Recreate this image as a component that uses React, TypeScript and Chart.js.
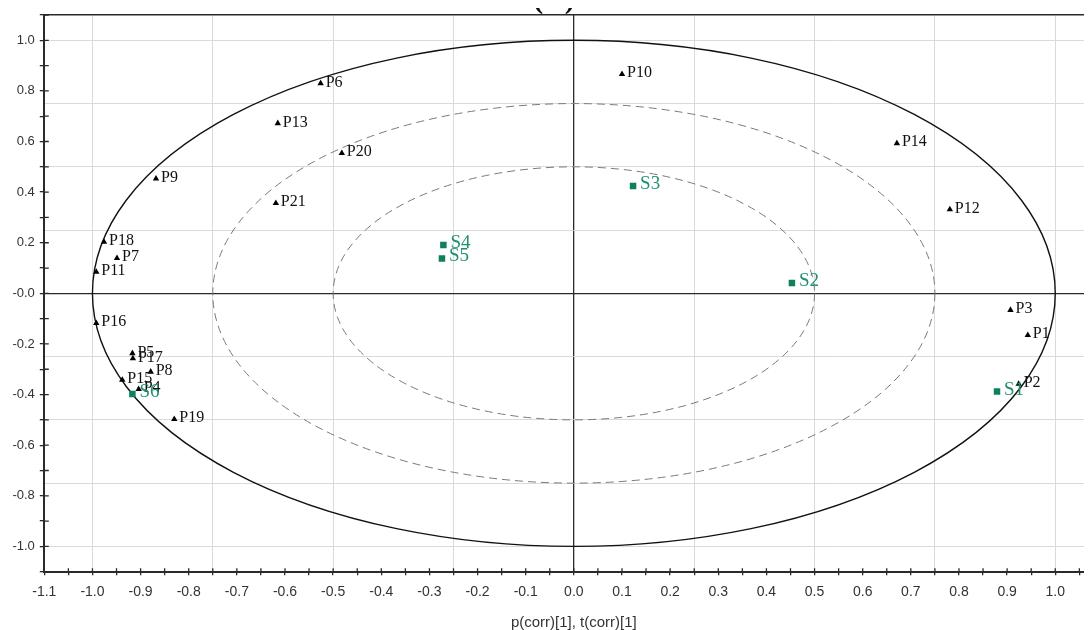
import React, { useEffect, useRef } from "react";
import { Chart, registerables } from "chart.js";

Chart.register(...registerables);

// ---- data ----
const pLabels = ["P1","P2","P3","P4","P5","P6","P7","P8","P9","P10","P11","P12","P13","P14","P15","P16","P17","P18","P19","P20","P21"];
const pX = [0.943, 0.924, 0.907, -0.904, -0.917, -0.526, -0.949, -0.879, -0.868, 0.100, -0.992, 0.781, -0.615, 0.671, -0.938, -0.992, -0.916, -0.976, -0.830, -0.482, -0.619];
const pY = [-0.165, -0.358, -0.066, -0.379, -0.237, 0.830, 0.139, -0.310, 0.453, 0.866, 0.085, 0.332, 0.672, 0.593, -0.342, -0.118, -0.257, 0.203, -0.497, 0.554, 0.356];

const sLabels = ["S1","S2","S3","S4","S5","S6"];
const sX = [0.879, 0.453, 0.123, -0.271, -0.274, -0.917];
const sY = [-0.388, 0.041, 0.424, 0.191, 0.138, -0.398];

const ellipseRadii = [1.0, 0.75, 0.5];

const xTickValues = [-1.1,-1.05,-1.0,-0.95,-0.9,-0.85,-0.8,-0.75,-0.7,-0.65,-0.6,-0.55,-0.5,-0.45,-0.4,-0.35,-0.3,-0.25,-0.2,-0.15,-0.1,-0.05,0,0.05,0.1,0.15,0.2,0.25,0.3,0.35,0.4,0.45,0.5,0.55,0.6,0.65,0.7,0.75,0.8,0.85,0.9,0.95,1.0,1.05,1.1];
const xTickLabels = ["-1.1","","-1.0","","-0.9","","-0.8","","-0.7","","-0.6","","-0.5","","-0.4","","-0.3","","-0.2","","-0.1","","0.0","","0.1","","0.2","","0.3","","0.4","","0.5","","0.6","","0.7","","0.8","","0.9","","1.0","","1.1"];
const yTickValues = [-1.1,-1.0,-0.9,-0.8,-0.7,-0.6,-0.5,-0.4,-0.3,-0.2,-0.1,0,0.1,0.2,0.3,0.4,0.5,0.6,0.7,0.8,0.9,1.0,1.1];
const yTickLabels = ["","-1.0","","-0.8","","-0.6","","-0.4","","-0.2","","-0.0","","0.2","","0.4","","0.6","","0.8","","1.0",""];
const gridValues = [-1.0, -0.75, -0.5, -0.25, 0, 0.25, 0.5, 0.75, 1.0];

const xTitle = "p(corr)[1], t(corr)[1]";
const panelTitle = "(A)";

const GREEN = "#0d8060";
const GREEN_TEXT = "#1f8f70";
const AXIS = "#2a2a2a";
const GRID = "#dadada";
const SANS = "'Liberation Sans', Arial, sans-serif";
const SERIF = "'Liberation Serif', 'Times New Roman', serif";

const noPad = (s: any) => {
  s.paddingLeft = 0;
  s.paddingRight = 0;
  s.paddingTop = 0;
  s.paddingBottom = 0;
};

const overlay = {
  id: "overlay",
  beforeDatasetsDraw(chart: any) {
    const { ctx, scales } = chart;
    const xs = scales.x, ys = scales.y;
    const cx = xs.getPixelForValue(0);
    const cy = ys.getPixelForValue(0);
    ctx.save();
    ellipseRadii.forEach((r, i) => {
      const rx = xs.getPixelForValue(r) - cx;
      const ry = cy - ys.getPixelForValue(r);
      ctx.beginPath();
      ctx.ellipse(cx, cy, rx, ry, 0, 0, Math.PI * 2);
      if (i === 0) {
        ctx.setLineDash([]);
        ctx.strokeStyle = "#111";
        ctx.lineWidth = 1.4;
      } else {
        ctx.setLineDash([8, 5]);
        ctx.strokeStyle = "#7a7a7a";
        ctx.lineWidth = 1;
      }
      ctx.stroke();
    });
    ctx.restore();
  },
  afterDatasetsDraw(chart: any) {
    const { ctx, scales } = chart;
    const xs = scales.x, ys = scales.y;
    ctx.save();
    ctx.textBaseline = "middle";
    ctx.textAlign = "left";
    ctx.font = `16px ${SERIF}`;
    ctx.fillStyle = "#111";
    pLabels.forEach((l, i) => {
      ctx.fillText(l, xs.getPixelForValue(pX[i]) + 5, ys.getPixelForValue(pY[i]) - 1);
    });
    ctx.font = `19px ${SERIF}`;
    ctx.fillStyle = GREEN_TEXT;
    sLabels.forEach((l, i) => {
      ctx.fillText(l, xs.getPixelForValue(sX[i]) + 7, ys.getPixelForValue(sY[i]) - 2);
    });
    ctx.restore();
  },
  afterDraw(chart: any) {
    const { ctx, scales, chartArea } = chart;
    ctx.save();
    ctx.strokeStyle = AXIS;
    ctx.lineWidth = 1.3;
    ctx.beginPath();
    scales.x.ticks.forEach((t: any) => {
      const px = scales.x.getPixelForValue(t.value);
      ctx.moveTo(px, chartArea.bottom);
      ctx.lineTo(px, chartArea.bottom - 3.5);
    });
    scales.y.ticks.forEach((t: any) => {
      const py = scales.y.getPixelForValue(t.value);
      ctx.moveTo(chartArea.left, py);
      ctx.lineTo(chartArea.left + 4.5, py);
    });
    ctx.stroke();
    ctx.restore();
  },
};

export default function App() {
  const ref = useRef<HTMLCanvasElement | null>(null);

  useEffect(() => {
    if (!ref.current) return;
    const chart = new Chart(ref.current, {
      type: "scatter",
      data: {
        datasets: [
          {
            label: "P",
            data: pX.map((x, i) => ({ x, y: pY[i] })),
            pointStyle: "triangle",
            pointRadius: 3.7,
            backgroundColor: "#000",
            borderWidth: 0,
            xAxisID: "x",
            yAxisID: "y",
          },
          {
            label: "S",
            data: sX.map((x, i) => ({ x, y: sY[i] })),
            pointStyle: "rect",
            pointRadius: 4.6,
            backgroundColor: GREEN,
            borderWidth: 0,
            xAxisID: "x",
            yAxisID: "y",
          },
        ],
      },
      options: {
        animation: false,
        responsive: false,
        devicePixelRatio: 1,
        layout: { padding: { top: 7, right: 3.2, bottom: 0, left: 0 } },
        plugins: { legend: { display: false }, tooltip: { enabled: false }, title: { display: false } },
        scales: {
          x: {
            type: "linear",
            position: "bottom",
            min: -1.1,
            max: 1.1,
            afterBuildTicks: (s: any) => { s.ticks = xTickValues.map((v) => ({ value: v })); },
            afterFit: (s: any) => { s.height = 58.3; noPad(s); },
            ticks: {
              autoSkip: false,
              maxRotation: 0,
              padding: 8.7,
              color: "#333",
              font: { family: SANS, size: 14 },
              callback: (v: any, i: number) => xTickLabels[i] ?? "",
            },
            grid: {
              color: (c: any) => (c.tick && c.tick.value === 0 ? AXIS : "rgba(0,0,0,0)"),
              tickColor: AXIS,
              lineWidth: 1.3,
              tickLength: 3.5,
              drawOnChartArea: true,
            },
            border: { display: true, color: AXIS, width: 2 },
            title: {
              display: true,
              text: xTitle,
              color: "#333",
              font: { family: SANS, size: 15, lineHeight: 0.9 },
              padding: { top: 0, bottom: 0 },
            },
          },
          xg: {
            type: "linear",
            position: "top",
            min: -1.1,
            max: 1.1,
            afterBuildTicks: (s: any) => { s.ticks = gridValues.map((v) => ({ value: v })); },
            afterFit: (s: any) => { s.height = 0; noPad(s); },
            ticks: { display: false },
            grid: {
              color: (c: any) => (c.tick && c.tick.value === 0 ? "rgba(0,0,0,0)" : GRID),
              drawTicks: false,
              lineWidth: 1,
            },
            border: { display: true, color: AXIS, width: 1.5 },
          },
          y: {
            type: "linear",
            position: "left",
            min: -1.1,
            max: 1.1,
            afterBuildTicks: (s: any) => { s.ticks = yTickValues.map((v) => ({ value: v })); },
            afterFit: (s: any) => { s.width = 36.3; noPad(s); },
            ticks: {
              autoSkip: false,
              padding: 5,
              color: "#333",
              font: { family: SANS, size: 13 },
              callback: (v: any, i: number) => yTickLabels[i] ?? "",
            },
            grid: {
              color: (c: any) => (c.tick && c.tick.value === 0 ? AXIS : "rgba(0,0,0,0)"),
              tickColor: AXIS,
              lineWidth: 1.3,
              tickLength: 4.5,
              drawOnChartArea: true,
            },
            border: { display: true, color: AXIS, width: 2 },
          },
          yg: {
            type: "linear",
            position: "right",
            min: -1.1,
            max: 1.1,
            afterBuildTicks: (s: any) => { s.ticks = gridValues.map((v) => ({ value: v })); },
            afterFit: (s: any) => { s.width = 0; noPad(s); },
            ticks: { display: false },
            grid: {
              color: (c: any) => (c.tick && c.tick.value === 0 ? "rgba(0,0,0,0)" : GRID),
              drawTicks: false,
              lineWidth: 1,
            },
            border: { display: false },
          },
        },
      },
      plugins: [overlay],
    } as any);
    return () => chart.destroy();
  }, []);

  return (
    <div style={{ position: "relative" }}>
      <div
        style={{
          position: "absolute",
          left: 446,
          width: 200,
          top: -25,
          textAlign: "center",
          fontFamily: SERIF,
          fontSize: 30,
          fontWeight: "bold",
          lineHeight: "30px",
          color: "#111",
          zIndex: 2,
        }}
      >
        {panelTitle}
      </div>
      <div style={{ width: 1084, height: 622, overflow: "hidden" }}>
        <canvas ref={ref} width={1100} height={622} style={{ display: "block", width: 1100, height: 622 }} />
      </div>
    </div>
  );
}
